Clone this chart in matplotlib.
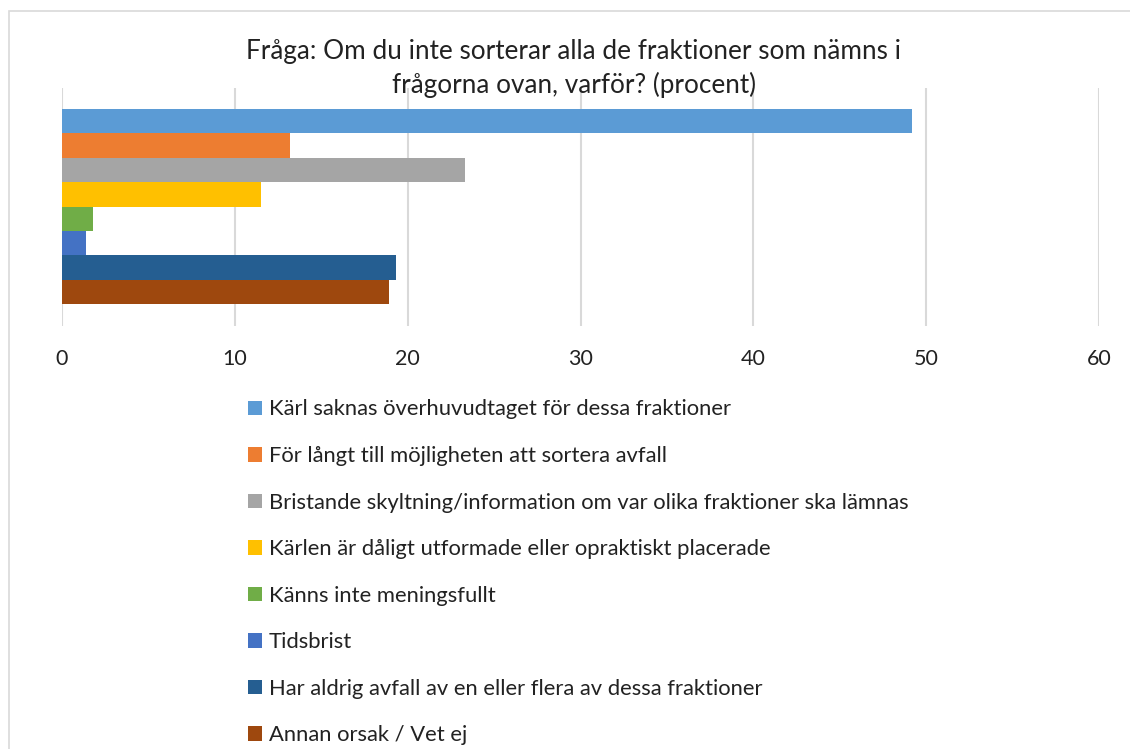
import numpy as np
import matplotlib.pyplot as plt
from matplotlib.patches import Rectangle

plt.rcParams['font.family'] = ['Lato', 'DejaVu Sans']

# survey answers (percent)
labels = [
    "Kärl saknas överhuvudtaget för dessa fraktioner",
    "För långt till möjligheten att sortera avfall",
    "Bristande skyltning/information om var olika fraktioner ska lämnas",
    "Kärlen är dåligt utformade eller opraktiskt placerade",
    "Känns inte meningsfullt",
    "Tidsbrist",
    "Har aldrig avfall av en eller flera av dessa fraktioner",
    "Annan orsak / Vet ej",
]
values = [49.2, 13.2, 23.3, 11.5, 1.8, 1.4, 19.3, 18.9]
colors = ["#5B9BD5", "#ED7D31", "#A5A5A5", "#FFC000",
          "#70AD47", "#4472C4", "#255E91", "#9E480E"]
xticks = [0, 10, 20, 30, 40, 50, 60]

fig = plt.figure(figsize=(11.3, 7.49), dpi=100)
W, H = 1130, 749

# light chart border
fig.patches.append(Rectangle((9 / W, -0.1), 1.2, 1 - 11 / H + 0.1,
                             transform=fig.transFigure, fill=False,
                             edgecolor="#d9d9d9", linewidth=1.2))

ax = fig.add_axes([62 / W, 1 - 326 / H, (1099 - 62) / W, (326 - 88) / H])
ypos = np.arange(len(values))[::-1]
for y, v, c, lab in zip(ypos, values, colors, labels):
    ax.barh(y, v, height=1.0, color=c, label=lab, zorder=3)

ax.set_xlim(0, 60)
ax.set_ylim(-1.4, 8.36)
ax.set_xticks(xticks)
ax.set_yticks([])
ax.grid(axis="x", color="#d9d9d9", linewidth=1.5, zorder=0)
for s in ax.spines.values():
    s.set_visible(False)
ax.tick_params(axis="x", length=0, pad=16.5, labelsize=15.5, labelcolor="#222222")

fig.text(574 / W, 1 - 68.5 / H,
         "Fråga: Om du inte sorterar alla de fraktioner som nämns i\nfrågorna ovan, varför? (procent)",
         ha="center", va="center", fontsize=18.8, color="#222222", linespacing=1.38)

fig.legend(loc="upper left", bbox_to_anchor=(248 / W, 1 - 399.5 / H),
           frameon=False, fontsize=15.8, handlelength=0.64, handleheight=0.64,
           handletextpad=0.3, labelspacing=1.21, borderpad=0, borderaxespad=0,
           labelcolor="#222222")

fig.savefig("out.png", dpi=100)
